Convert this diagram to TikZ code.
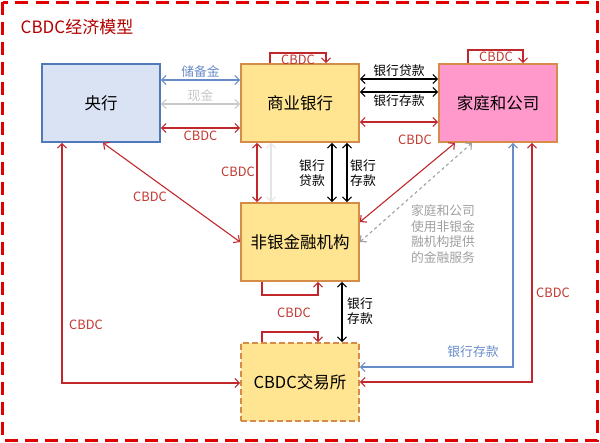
\documentclass[tikz,border=0pt]{standalone}
\usepackage{fontspec}
\setmainfont{Noto Sans CJK SC}
\usetikzlibrary{arrows.meta, positioning}
\definecolor{cbdcred}{RGB}{192, 40, 45}
\definecolor{cbdctext}{RGB}{192, 57, 50}
\definecolor{frame}{RGB}{224, 0, 0}
\definecolor{boxedge}{RGB}{212, 140, 72}
\definecolor{bankfill}{RGB}{255, 228, 145}
\definecolor{homefill}{RGB}{255, 153, 204}
\definecolor{cbfill}{RGB}{218, 227, 243}
\definecolor{cbedge}{RGB}{79, 121, 184}
\definecolor{resblue}{RGB}{104, 140, 200}
\definecolor{cashgray}{RGB}{200, 200, 200}
\definecolor{notegray}{RGB}{160, 160, 160}

\begin{document}
\begin{tikzpicture}[
    x=1pt, y=-1pt,
    >={Straight Barb[length=4.5pt,width=9pt]},
    box/.style={draw=boxedge, line width=1.8pt, minimum width=118pt, minimum height=78pt,
        font=\fontsize{16.5}{20}\selectfont},
    bank/.style={box, fill=bankfill},
    flow/.style={line width=1.1pt},
    cbdc/.style={flow, draw=cbdcred},
    money/.style={flow, draw=black},
    lbl/.style={font=\fontsize{12.8}{15.5}\selectfont, inner sep=1pt, align=center},
    redlbl/.style={lbl, text=cbdctext}
]
    \useasboundingbox (0,0) rectangle (600,443);
    \draw[frame, line width=3.5pt, dash pattern=on 13pt off 7pt] (2.5,2.5) rectangle (597.5,440.5);
    \node[text=frame!80!black, font=\fontsize{17}{20}\selectfont] (title) at (77,27) {CBDC经济模型};

    % boxes
    \node[box, fill=cbfill, draw=cbedge] (cb) at (101,103) {央行};
    \node[bank] (cm) at (300,103) {商业银行};
    \node[box, fill=homefill] (hh) at (498,103) {家庭和公司};
    \node[bank] (nb) at (300,242) {非银金融机构};
    \node[bank, dash pattern=on 6pt off 3pt] (ex) at (300,382) {CBDC交易所};

    % central bank <-> commercial bank
    \draw[flow, draw=resblue, <->] (cb.east |- 0,80) -- (cm.west |- 0,80)
        node[lbl, text=resblue, midway, above=1pt] {储备金};
    \draw[flow, draw=cashgray, <->] (cb.east |- 0,104) -- (cm.west |- 0,104)
        node[lbl, text=cashgray, midway, above=1pt] {现金};
    \draw[cbdc, <->] (cb.east |- 0,128) -- (cm.west |- 0,128)
        node[redlbl, midway, below=1pt] {CBDC};

    % self loops
    \draw[cbdc, ->] (cm.north -| 270,0) -- (270,53) -- (326,53) -- (cm.north -| 326,0);
    \node[redlbl] (cmloop) at (298,60) {CBDC};
    \draw[cbdc, ->] (hh.north -| 468,0) -- (468,50) -- (523,50) -- (hh.north -| 523,0);
    \node[redlbl] (hhloop) at (496,57) {CBDC};
    \draw[cbdc, ->] (nb.south -| 262,0) -- (262,295) -- (318,295) -- (nb.south -| 318,0);
    \node[redlbl] (nbloop) at (294,313) {CBDC};
    \draw[cbdc, ->] (ex.north -| 262,0) -- (262,332) -- (318,332) -- (ex.north -| 318,0);

    % commercial bank <-> households
    \draw[money, <->] (cm.east |- 0,79) -- (hh.west |- 0,79)
        node[lbl, midway, above=1pt] {银行贷款};
    \draw[money, <->] (cm.east |- 0,92) -- (hh.west |- 0,92)
        node[lbl, midway, below=1pt] {银行存款};
    \draw[cbdc, <->] (cm.east |- 0,122) -- (hh.west |- 0,122);
    \node[redlbl] (cmhh) at (415,140) {CBDC};

    % commercial bank <-> non-bank
    \draw[cbdc, <->] (cm.south -| 257,0) -- (nb.north -| 257,0);
    \node[redlbl] (cmnb) at (238,172) {CBDC};
    \draw[flow, draw=cashgray!50, <->] (cm.south -| 271,0) -- (nb.north -| 271,0);
    \draw[money, <->] (cm.south -| 332,0) -- (nb.north -| 332,0);
    \node[lbl] (loan) at (312,173) {银行\\贷款};
    \draw[money, <->] (cm.south -| 347,0) -- (nb.north -| 347,0);
    \node[lbl] (dep) at (363,173) {银行\\存款};

    % diagonals
    \draw[cbdc, <->] (cb.south -| 103,0) -- (nb.west |- 0,242);
    \node[redlbl] (cbnb) at (150,197) {CBDC};
    \draw[cbdc, <->] (nb.east |- 0,222) -- (hh.south -| 455,0);
    \draw[flow, draw=notegray, dashed, <->] (nb.east |- 0,242) -- (hh.south -| 472,0);
    \node[lbl, text=notegray, align=left] (note) at (443,234) {家庭和公司\\使用非银金\\融机构提供\\的金融服务};

    % exchange
    \draw[money, <->] (nb.south -| 342,0) -- (ex.north -| 342,0);
    \node[lbl] (exdep) at (360,311) {银行\\存款};
    \draw[cbdc, <->] (cb.south -| 62,0) |- (ex.west |- 0,383);
    \node[redlbl] (cbex) at (86,325) {CBDC};
    \draw[flow, draw=resblue, <->] (hh.south -| 513,0) |- (ex.east |- 0,367);
    \node[lbl, text=resblue] (hhdep) at (473,352) {银行存款};
    \draw[cbdc, <->] (hh.south -| 532,0) |- (ex.east |- 0,382);
    \node[redlbl] (hhex) at (553,293) {CBDC};
\end{tikzpicture}
\end{document}
